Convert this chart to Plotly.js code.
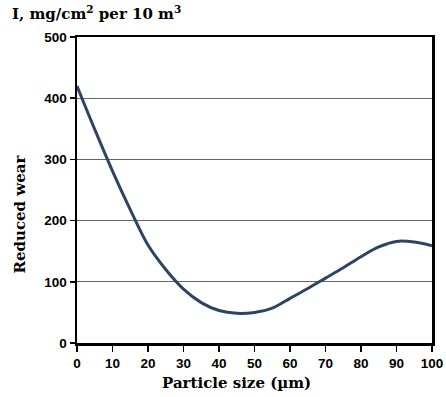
<!DOCTYPE html>
<html>
<head>
<meta charset="utf-8">
<script src="https://cdn.plot.ly/plotly-3.0.1.min.js"></script>
<style>html,body{margin:0;padding:0;background:#fff;}#chart{width:446px;height:397px;}</style>
</head>
<body>
<div id="chart"></div>
<script>
const particleSize = [0,5,10,15,20,25,30,35,40,45,50,55,60,65,70,75,80,85,90,95,100];
const reducedWear = [420,349,281,218,160,120,88,66,53,48.5,50,57,73,89,106,123,141,157,166,165,159];
const xTicks = [0,10,20,30,40,50,60,70,80,90,100];
const yTicks = [0,100,200,300,400,500];

const serif = "'DejaVu Serif', 'Liberation Serif', serif";
const sans = "'Liberation Sans', Arial, sans-serif";

Plotly.newPlot('chart', [{
  x: particleSize, y: reducedWear, type: 'scatter', mode: 'lines',
  line: {shape: 'spline', smoothing: 1.0, color: '#2d4464', width: 3},
  hoverinfo: 'none'
}], {
  width: 446, height: 397,
  margin: {l: 77, r: 14, t: 37, b: 54},
  paper_bgcolor: '#fff', plot_bgcolor: '#fff',
  showlegend: false,
  xaxis: {
    range: [0, 100], tickvals: xTicks, ticktext: xTicks.map(String),
    showgrid: false, zeroline: false,
    showline: true, linecolor: '#000', linewidth: 2.5, mirror: true,
    ticks: 'outside', ticklen: 6, tickwidth: 1.5, tickcolor: '#000',
    tickfont: {family: sans, size: 13.5, color: '#000', weight: 'bold'}
  },
  yaxis: {
    range: [0, 500], tickvals: yTicks, ticktext: yTicks.map(String),
    showgrid: true, gridcolor: '#666', gridwidth: 1, zeroline: false,
    showline: true, linecolor: '#000', linewidth: 2.5, mirror: true,
    ticks: 'outside', ticklen: 5, tickwidth: 1.5, tickcolor: '#000',
    tickfont: {family: sans, size: 13.5, color: '#000', weight: 'bold'}
  },
  annotations: [{
    text: '<b>I, mg/cm<sup>2</sup> per 10 m<sup>3</sup></b>',
    xref: 'paper', yref: 'paper', x: 0, y: 1.0, xshift: -67, yshift: 24,
    xanchor: 'left', yanchor: 'middle', showarrow: false,
    font: {family: serif, size: 15, color: '#000'}
  }, {
    text: '<b>Particle size (µm)</b>',
    xref: 'paper', yref: 'paper', x: 0.45, y: 0, yshift: -40,
    xanchor: 'center', yanchor: 'middle', showarrow: false,
    font: {family: serif, size: 15, color: '#000'}
  }, {
    text: '<b>Reduced wear</b>',
    xref: 'paper', yref: 'paper', x: 0, y: 0.42, xshift: -57,
    xanchor: 'center', yanchor: 'middle', showarrow: false, textangle: -90,
    font: {family: serif, size: 15, color: '#000'}
  }]
}, {staticPlot: true});
</script>
</body>
</html>
